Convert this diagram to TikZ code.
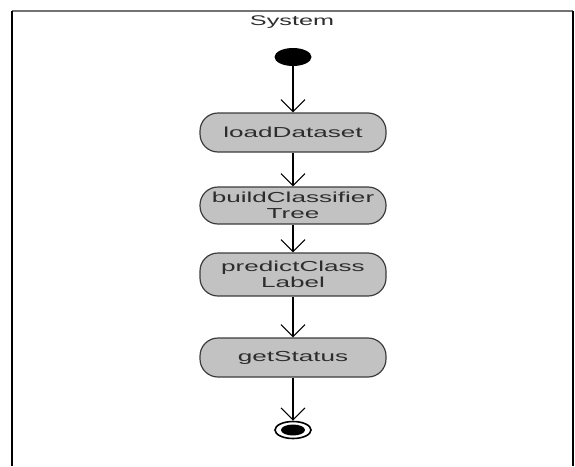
\documentclass[tikz,border=0pt]{standalone}
\usepackage{fontspec}
\usetikzlibrary{shapes.geometric,arrows.meta}
\newfontfamily\widesans[FakeStretch=1.8]{Liberation Sans}
\definecolor{boxfill}{RGB}{194,194,194}
\definecolor{boxline}{RGB}{60,60,60}
\definecolor{txt}{RGB}{45,45,45}
\begin{document}
\begin{tikzpicture}[x=1pt,y=-1pt,
  action/.style={rectangle, rounded corners=18pt, draw=boxline, line width=1.2pt,
    fill=boxfill, minimum width=186pt, inner sep=0pt, align=center,
    text=txt, font=\widesans\fontsize{14.5}{16}\selectfont},
  flow/.style={draw=black, line width=1.1pt,
    -{Straight Barb[length=12pt, width=24pt, line width=1.1pt]}},
  startdot/.style={ellipse, fill=black, minimum width=37pt, minimum height=18pt, inner sep=0pt},
  enddot/.style={ellipse, draw=black, line width=1.6pt, fill=white, minimum width=36pt, minimum height=17pt, inner sep=0pt}
]
\useasboundingbox (0,0) rectangle (575,466);
% frame
\draw[draw=gray!90!black, line width=1.4pt] (12,11) -- (573,11);
\draw[black, line width=1.6pt] (12,11) -- (12,466);
\draw[black, line width=1.6pt] (573,11) -- (573,466);
\node[text=txt, font=\widesans\fontsize{14}{16}\selectfont] (title) at (292,22) {System};
% nodes
\node[startdot] (start) at (293,57) {};
\node[action, minimum height=39pt] (load) at (293,132.5) {loadDataset};
\node[action, minimum height=37pt] (build) at (293,205.5) {buildClassifier\\Tree};
\node[action, minimum height=43pt] (predict) at (293,274.5) {predictClass\\Label};
\node[action, minimum height=39pt] (status) at (293,357.5) {getStatus};
\node[enddot] (final) at (293,430) {};
\fill[black] (final.center) ellipse [x radius=12pt, y radius=5.5pt];
% flows
\draw[flow] (start.south) -- (load.north);
\draw[flow] (load.south) -- (build.north);
\draw[flow] (build.south) -- (predict.north);
\draw[flow] (predict.south) -- (status.north);
\draw[flow] (status.south) -- (final.north);
\end{tikzpicture}
\end{document}
